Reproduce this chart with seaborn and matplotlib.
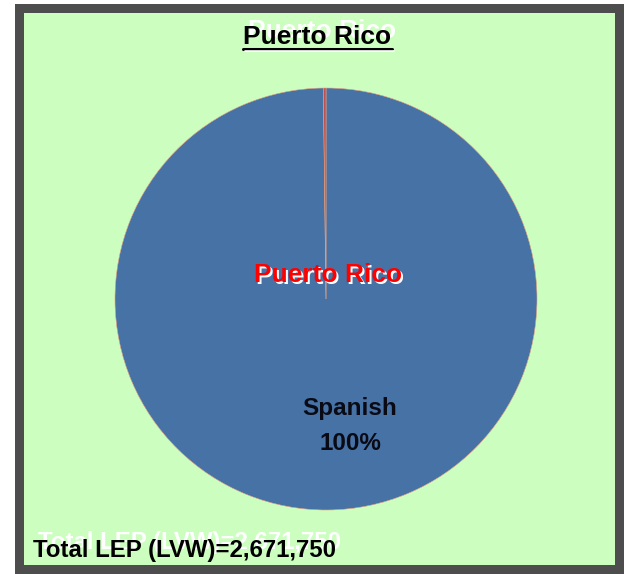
import matplotlib
matplotlib.use("Agg")
import matplotlib.pyplot as plt
import seaborn as sns
from matplotlib.patches import Rectangle

# data
languages = ["Spanish", "Other"]
shares = [99.8, 0.2]
slice_colors = ["#4672A6", "#C0504D"]
region = "Puerto Rico"
total_lep = 2671750

sns.set_style("white")
plt.rcParams['font.family'] = ['Liberation Sans', 'DejaVu Sans']

W, H = 629, 574
fig = plt.figure(figsize=(W / 100, H / 100), dpi=100)
fig.patch.set_facecolor("white")

# gray frame and green panel
fig.add_artist(Rectangle((15 / W, 1 - 574 / H), 609 / W, 570 / H, transform=fig.transFigure,
                         facecolor="#4D4D4D", edgecolor="none", zorder=0))
fig.add_artist(Rectangle((24 / W, 1 - 565 / H), 591 / W, 552 / H, transform=fig.transFigure,
                         facecolor="#CCFFBF", edgecolor="none", zorder=0))

# pie axes: centre (326, 299) px, radius 211 px
cx, cy, r = 326, 299, 211
ax = fig.add_axes([(cx - r) / W, (H - cy - r) / H, 2 * r / W, 2 * r / H])
ax.set_facecolor("none")
ax.pie(shares, colors=slice_colors, startangle=90, counterclock=False,
       wedgeprops=dict(linewidth=0.4, edgecolor="#E8A080"))
ax.set_xlim(-1, 1)
ax.set_ylim(-1, 1)
ax.set_aspect("equal")
ax.axis("off")


def shadow_text(x, y, s, color, dx, dy, **kw):
    # dx, dy in pixels, dy > 0 means down
    fig.text((x + dx) / W, 1 - (y + dy) / H, s, color="white", **kw)
    fig.text(x / W, 1 - y / H, s, color=color, **kw)


# title
shadow_text(317, 37, region, "black", 5, -6, fontsize=19, fontweight="bold",
            ha="center", va="center")
fig.add_artist(plt.Line2D([243 / W, 392 / W], [1 - 48.5 / H, 1 - 48.5 / H],
                          transform=fig.transFigure, color="black", linewidth=2.2))
fig.add_artist(plt.Line2D([245 / W, 394 / W], [1 - 51 / H, 1 - 51 / H],
                          transform=fig.transFigure, color="white", linewidth=1.2))

# centre label
shadow_text(328, 275, region, "#FF0000", 2, 2, fontsize=19, fontweight="bold",
            ha="center", va="center")

# slice label
pct = round(shares[0])
label_kw = dict(color="#0A0A14", fontsize=17.5, fontweight="bold", ha="center", va="center")
fig.text(350 / W, 1 - 409 / H, languages[0], **label_kw)
fig.text(350 / W, 1 - 444 / H, f"{pct}%", **label_kw)

# total
shadow_text(33, 550, f"Total LEP (LVW)={total_lep:,}", "black", 5, -7,
            fontsize=17.3, fontweight="bold", ha="left", va="center")

fig.savefig("out.png", dpi=100)
